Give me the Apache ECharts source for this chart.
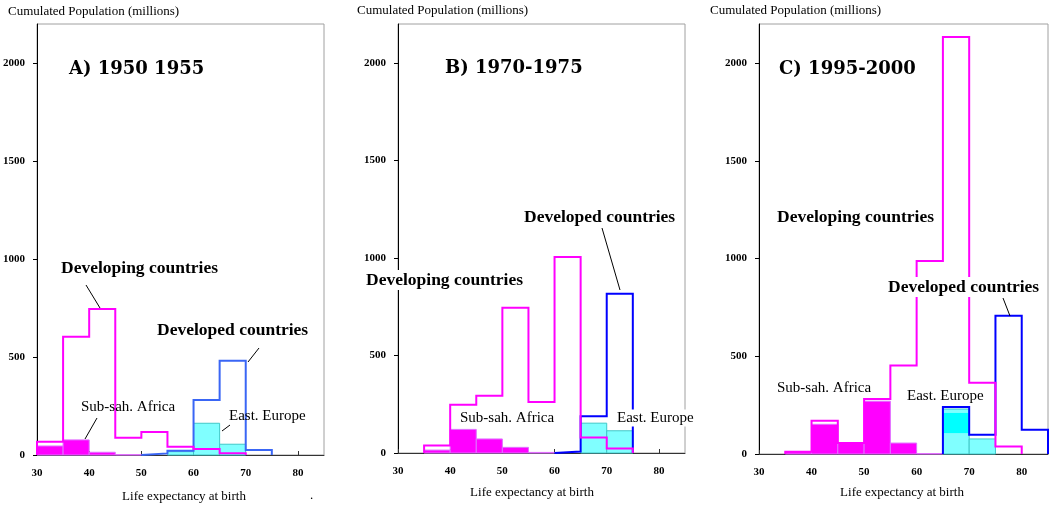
<!DOCTYPE html>
<html>
<head>
<meta charset="utf-8">
<script src="https://cdn.jsdelivr.net/npm/echarts/dist/echarts.min.js"></script>
<style>html,body{margin:0;padding:0;background:#fff}#c{width:1051px;height:507px}</style>
</head>
<body>
<div id="c"></div>
<script>
// ---- data (millions of people per 5-year life-expectancy bin) ----
const BIN = 5;
const xTicks = [30, 40, 50, 60, 70, 80];
const yTicks = [0, 500, 1000, 1500, 2000];
const panelTitles = ['A) 1950 1955', 'B) 1970-1975', 'C) 1995-2000'];

// Panel A 1950-1955
const devA_start = 30, devA = [68, 603, 745, 88, 117, 42, 31, 9];
const ssaA_start = 30, ssaA = [46, 77, 14, 2];
const dvdA_start = 50, dvdA = [8, 22, 281, 481, 26];
const eeA_start = 55, eeA = [17, 162, 55];

// Panel B 1970-1975
const devB_start = 35, devB = [38, 248, 294, 745, 262, 1005, 79, 23];
const ssaB_start = 35, ssaB = [15, 121, 72, 29, 3];
const dvdB_start = 60, dvdB = [8, 188, 817];
const eeB_start = 65, eeB = [153, 114];

// Panel C 1995-2000
const devC_start = 35, devC = [12, 170, 56, 281, 453, 987, 2133, 365, 39];
const ssaC_start = 35, ssaC = [12, 152, 56, 270, 56, 2];
const dvdC_start = 65, dvdC = [240, 99, 707, 124];
const eeC_start = 65, eeC = [230, 77];
const eeC_band = [65, 70, 107, 210]; // darker overlap band: from, to, low, high

// ---- helpers ----
function stepPoints(start, vals) {
  const pts = [[start, 0]];
  vals.forEach((v, i) => pts.push([start + i * BIN, v]));
  pts.push([start + vals.length * BIN, 0]);
  return pts;
}
function bins(start, vals) {
  return vals.map((v, i) => [start + i * BIN, start + (i + 1) * BIN, v]);
}
const MAG = '#ff00ff';
const SERIF = '"Liberation Serif", "Times New Roman", serif';

function outline(g, start, vals, color) {
  return {
    type: 'line', xAxisIndex: g, yAxisIndex: g, step: 'end',
    data: stepPoints(start, vals), symbol: 'none', showSymbol: false,
    lineStyle: { color: color, width: 2, join: 'miter' }, z: 4, silent: true, animation: false
  };
}
function fill(g, start, vals, color, border) {
  return {
    type: 'custom', xAxisIndex: g, yAxisIndex: g, data: bins(start, vals),
    encode: { x: [0, 1], y: 2 }, z: 2, silent: true, animation: false,
    renderItem: function (params, api) {
      const p0 = api.coord([api.value(0), api.value(2)]);
      const p1 = api.coord([api.value(1), 0]);
      return { type: 'rect', shape: { x: p0[0], y: p0[1], width: p1[0] - p0[0], height: p1[1] - p0[1] },
        style: { fill: color, stroke: border, lineWidth: 1 } };
    }
  };
}
function band(g, b, color) {
  return {
    type: 'custom', xAxisIndex: g, yAxisIndex: g, data: [b],
    encode: { x: [0, 1], y: [2, 3] }, z: 3, silent: true, animation: false,
    renderItem: function (params, api) {
      const p0 = api.coord([api.value(0), api.value(3)]);
      const p1 = api.coord([api.value(1), api.value(2)]);
      return { type: 'rect', shape: { x: p0[0], y: p0[1], width: p1[0] - p0[0], height: p1[1] - p0[1] },
        style: { fill: color } };
    }
  };
}

const grids = [
  { left: 35, top: 24, width: 289, height: 431 },
  { left: 398, top: 24, width: 287, height: 429 },
  { left: 759, top: 24, width: 289, height: 430 }
].map(g => Object.assign({ show: true, borderColor: '#a0a0a0', borderWidth: 1, backgroundColor: '#fff' }, g));

const xAxes = grids.map((g, i) => ({
  type: 'value', gridIndex: i, min: 30, max: 85, interval: 10,
  axisLine: { show: true, lineStyle: { color: '#333', width: 1 } },
  axisTick: { show: true, inside: true, length: 4, lineStyle: { color: '#333' } },
  axisLabel: { showMaxLabel: false, margin: 13, fontFamily: SERIF, fontSize: 11, fontWeight: 'bold', color: '#000',
    formatter: v => xTicks.includes(v) ? String(v) : '' },
  splitLine: { show: false }
}));
const yAxes = grids.map((g, i) => ({
  type: 'value', gridIndex: i, min: 0, max: 2200, interval: 500,
  axisLine: { show: true, lineStyle: { color: '#000', width: 1 } },
  axisTick: { show: true, inside: false, length: 4, lineStyle: { color: '#000' } },
  axisLabel: { showMaxLabel: false, margin: 12, fontFamily: SERIF, fontSize: 11, fontWeight: 'bold', color: '#000',
    formatter: v => yTicks.includes(v) ? String(v) : '' },
  splitLine: { show: false }
}));

const series = [
  fill(0, ssaA_start, ssaA, MAG, '#e070ff'),
  fill(0, eeA_start, eeA, '#80ffff', '#40c8c8'),
  outline(0, dvdA_start, dvdA, '#3a66f5'),
  outline(0, devA_start, devA, MAG),

  fill(1, ssaB_start, ssaB, MAG, '#e070ff'),
  fill(1, eeB_start, eeB, '#80ffff', '#40c8c8'),
  outline(1, dvdB_start, dvdB, '#0000ff'),
  outline(1, devB_start, devB, MAG),

  fill(2, ssaC_start, ssaC, MAG, '#e070ff'),
  fill(2, eeC_start, eeC, '#80ffff', '#40c8c8'),
  band(2, eeC_band, '#00ffff'),
  outline(2, dvdC_start, dvdC, '#0000ff'),
  outline(2, devC_start, devC, MAG)
];

function txt(s, x, y, font, bg) {
  const st = { text: s, font: font, fill: '#000', align: 'left', verticalAlign: 'middle' };
  if (bg) { st.backgroundColor = '#fff'; st.padding = [1, 2]; }
  return { type: 'text', x: x, y: y, z: 100, style: st };
}
function ln(x1, y1, x2, y2) {
  return { type: 'line', z: 100, shape: { x1, y1, x2, y2 }, style: { stroke: '#000', lineWidth: 1 } };
}
const TITLE = 'bold 18px "DejaVu Serif", serif';
const BIG = 'bold 17.5px ' + SERIF;
const MID = '15px ' + SERIF;
const AX = '13px ' + SERIF;

const graphics = [
  txt('Cumulated Population (millions)', 8, 12, AX),
  txt('Cumulated Population (millions)', 357, 11, AX),
  txt('Cumulated Population (millions)', 710, 11, AX),
  { type: 'text', x: 184, y: 497, z: 100, style: { text: 'Life expectancy at birth', font: AX, fill: '#000', align: 'center', verticalAlign: 'middle' } },
  { type: 'text', x: 532, y: 493, z: 100, style: { text: 'Life expectancy at birth', font: AX, fill: '#000', align: 'center', verticalAlign: 'middle' } },
  { type: 'text', x: 902, y: 493, z: 100, style: { text: 'Life expectancy at birth', font: AX, fill: '#000', align: 'center', verticalAlign: 'middle' } },
  txt('.', 310, 496, AX),

  txt(panelTitles[0], 69, 69, TITLE),
  txt(panelTitles[1], 445, 68, TITLE),
  txt(panelTitles[2], 779, 69, TITLE),

  // Panel A annotations
  txt('Developing countries', 61, 268, BIG),
  ln(86, 285, 100, 308),
  txt('Developed countries', 157, 330, BIG),
  ln(259, 348, 248, 362),
  txt('Sub-sah. Africa', 81, 407, MID),
  ln(97, 418, 85, 439),
  txt('East. Europe', 229, 416, MID),
  ln(230, 425, 222, 431),

  // Panel B annotations
  txt('Developing countries', 364, 280, BIG, true),
  txt('Developed countries', 522, 217, BIG, true),
  ln(602, 228, 620, 290),
  txt('Sub-sah. Africa', 458, 418, MID, true),
  txt('East. Europe', 615, 418, MID, true),

  // Panel C annotations
  txt('Developing countries', 775, 217, BIG, true),
  txt('Developed countries', 886, 287, BIG, true),
  ln(1003, 298, 1010, 316),
  txt('Sub-sah. Africa', 777, 388, MID),
  txt('East. Europe', 905, 396, MID, true)
];

const chart = echarts.init(document.getElementById('c'), null, { renderer: 'canvas' });
chart.setOption({
  animation: false,
  backgroundColor: '#fff',
  grid: grids, xAxis: xAxes, yAxis: yAxes, series: series,
  graphic: { elements: graphics }
});
</script>
</body>
</html>
